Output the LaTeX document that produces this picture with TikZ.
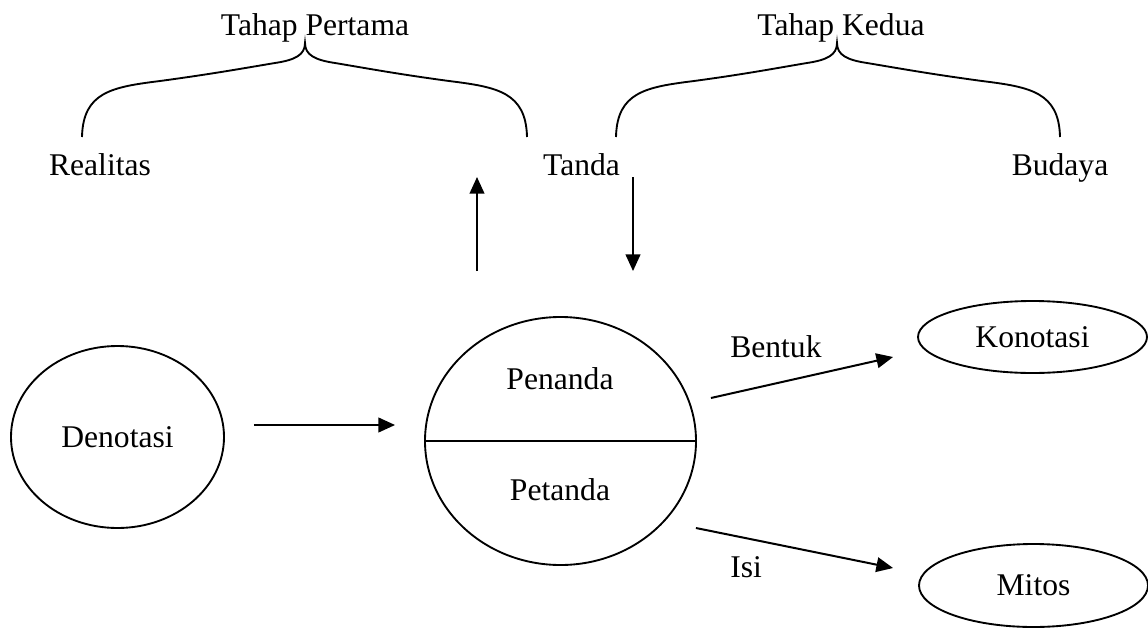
\documentclass[tikz,border=0pt]{standalone}
\usepackage{fontspec}
\setmainfont{Liberation Serif}
\usetikzlibrary{arrows.meta,shapes.geometric}
\tikzset{
  lbl/.style={anchor=base,inner sep=0pt,font=\fontsize{23.7}{28}\selectfont},
  oval/.style={draw,ellipse,inner sep=0pt,line width=1.4pt,font=\fontsize{23.7}{28}\selectfont},
  arr/.style={line width=1.5pt,-{Triangle[length=12.5pt,width=11pt]}},
  brc/.style={line width=1.4pt}
}
\newcommand\drawbrace[3]{%
  \draw[brc] (#1,137) .. controls ({#1+1},92) and ({#1+30},87) .. ({#1+78},81)
    .. controls ({#1+130},74) and ({#2-60},68) .. ({#2-30},63)
    .. controls ({#2-10},60) and (#2,55) .. (#2,43)
    .. controls (#2,55) and ({#2+10},60) .. ({#2+30},63)
    .. controls ({#2+60},68) and ({#3-130},74) .. ({#3-78},81)
    .. controls ({#3-30},87) and ({#3-1},92) .. (#3,137);}
\begin{document}
\begin{tikzpicture}[x=0.75pt,y=-0.75pt]
\useasboundingbox (0,0) rectangle (1148,628);
% labels top
\node[lbl] (tp) at (315,36) {Tahap Pertama};
\node[lbl] (tk) at (841,36) {Tahap Kedua};
\node[lbl] (real) at (100,175) {Realitas};
\node[lbl] (tanda) at (581.5,175) {Tanda};
\node[lbl] (bud) at (1060,175) {Budaya};
% braces
\drawbrace{82}{305}{527}
\drawbrace{616}{837}{1060}
% shapes
\node[oval,minimum width=159.75pt,minimum height=136.5pt] (deno) at (117.5,437) {Denotasi};
\node[oval,minimum width=203.25pt,minimum height=186pt] (big) at (560.5,441) {};
\draw[line width=1.4pt] (big.west) -- (big.east);
\node[lbl] (pen) at (560,389) {Penanda};
\node[lbl] (pet) at (560,500) {Petanda};
\node[oval,minimum width=171.75pt,minimum height=54pt] (kon) at (1032.5,337) {Konotasi};
\node[oval,minimum width=171.75pt,minimum height=62.25pt] (mit) at (1033.5,585.5) {Mitos};
% edge labels
\node[lbl,anchor=base west] (bentuk) at (730,357) {Bentuk};
\node[lbl,anchor=base west] (isi) at (730,577) {Isi};
% arrows
\draw[arr] ([shift={(29,-12)}]deno.east) -- ([shift={(-29,-16)}]big.west);
\draw[arr] ([shift={(-83.5,-45)}]big.north) -- ([shift={(-104.5,2)}]tanda.base);
\draw[arr] ([shift={(51.5,2)}]tanda.base) -- ([shift={(72.5,-45)}]big.north);
\draw[arr] ([shift={(14,-43)}]big.east) -- ([shift={(-24,20)}]kon.west);
\draw[arr] ([shift={(-1,87)}]big.east) -- ([shift={(-25,-17.5)}]mit.west);
\end{tikzpicture}
\end{document}
